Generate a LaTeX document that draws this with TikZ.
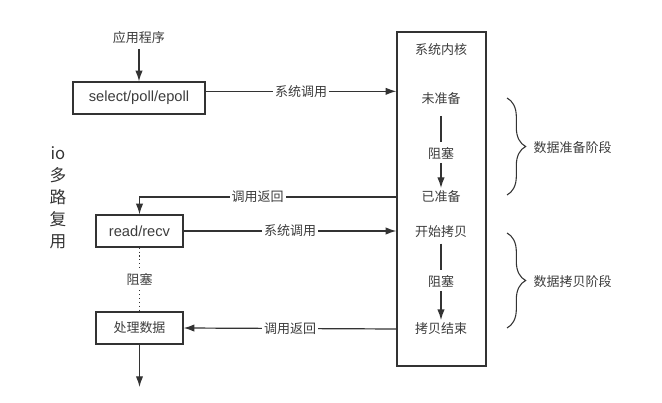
\documentclass[tikz,border=0pt]{standalone}
\usepackage{fontspec}
\setmainfont{Noto Sans CJK SC}
\newfontfamily\latinfont{Liberation Sans}
\usetikzlibrary{positioning,arrows.meta,decorations.pathreplacing}
\definecolor{figTrait}{RGB}{51,51,51}
\definecolor{figTexte}{RGB}{60,60,60}

\begin{document}
\begin{tikzpicture}[
  x=0.75pt, y=-0.75pt,
  every node/.style={font=\fontsize{9.75}{12}\selectfont, text=figTexte},
  box/.style={draw=figTrait, line width=1pt, minimum height=24pt, inner sep=0pt},
  latin/.style={font=\latinfont\fontsize{11}{13}\selectfont},
  arr/.style={draw=figTrait, line width=0.9pt, -{Latex[length=8pt,width=5.5pt]}},
  ln/.style={draw=figTrait, line width=0.9pt},
  lbl/.style={fill=white, inner sep=1.5pt},
  st/.style={inner sep=2pt},
  brc/.style={draw=figTrait, line width=0.8pt, decorate,
              decoration={brace, amplitude=14pt}}
]
\useasboundingbox (0,0) rectangle (662,403);

% application side
\node (app) at (139,38) {应用程序};
\node[box, latin, minimum width=99pt] (sel) at (139,98) {select/poll/epoll};
\node[box, latin, minimum width=65.25pt] (rd) at (139.5,231) {read/recv};
\node[box, minimum width=65.25pt] (proc) at (139.5,328) {处理数据};
\coordinate (fin) at (139.5,387);
\node[align=center, font=\fontsize{12.5}{16.5}\selectfont, text=figTrait] (iolbl) at (58,198)
     {io\\多\\路\\复\\用};

% kernel
\node[box, minimum width=66.75pt, minimum height=250.5pt] (kern) at (441.5,199) {};
\node (kernlbl) at (441,50) {系统内核};
\node[st] (wzb) at (441,99)  {未准备};
\node[st] (zs1) at (441,154) {阻塞};
\node[st] (yzb) at (441,197) {已准备};
\node[st] (ksk) at (441,232) {开始拷贝};
\node[st] (zs2) at (441,282) {阻塞};
\node[st] (kbj) at (441,329) {拷贝结束};

\draw[ln, shorten <=6pt, shorten >=2pt] (wzb) -- (zs1);
\draw[arr] (zs1) -- (yzb);
\draw[ln, shorten <=2pt, shorten >=2pt] (ksk) -- (zs2);
\draw[arr] (zs2) -- (kbj);

% calls and returns
\draw[arr] (app) -- (sel);
\draw[arr] ([yshift=5pt]sel.east) -- ([yshift=5pt]sel.east -| kern.west)
      node[lbl, midway] {系统调用};
\draw[arr] (yzb -| kern.west) -- (yzb -| rd.north) node[lbl, pos=0.54] {调用返回}
      -- (rd.north);
\draw[arr] (rd.east) -- (rd.east -| kern.west) node[lbl, midway] {系统调用};
\draw[arr] (kbj -| kern.west) -- (proc.east) node[lbl, midway] {调用返回};
\draw[ln, dotted] (rd.south) -- (proc.north) node[lbl, midway] {阻塞};
\draw[arr] (proc.south) -- (fin);

% stages
\coordinate (b1top) at (507,98);
\coordinate (b1bot) at (507,195);
\coordinate (b2top) at (507,233);
\coordinate (b2bot) at (507,328);
\draw[brc] (b1top) -- (b1bot);
\draw[brc] (b2top) -- (b2bot);
\node[anchor=west] (stagePrep) at (529,148) {数据准备阶段};
\node[anchor=west] (stageCopy) at (529,282) {数据拷贝阶段};
\end{tikzpicture}
\end{document}
